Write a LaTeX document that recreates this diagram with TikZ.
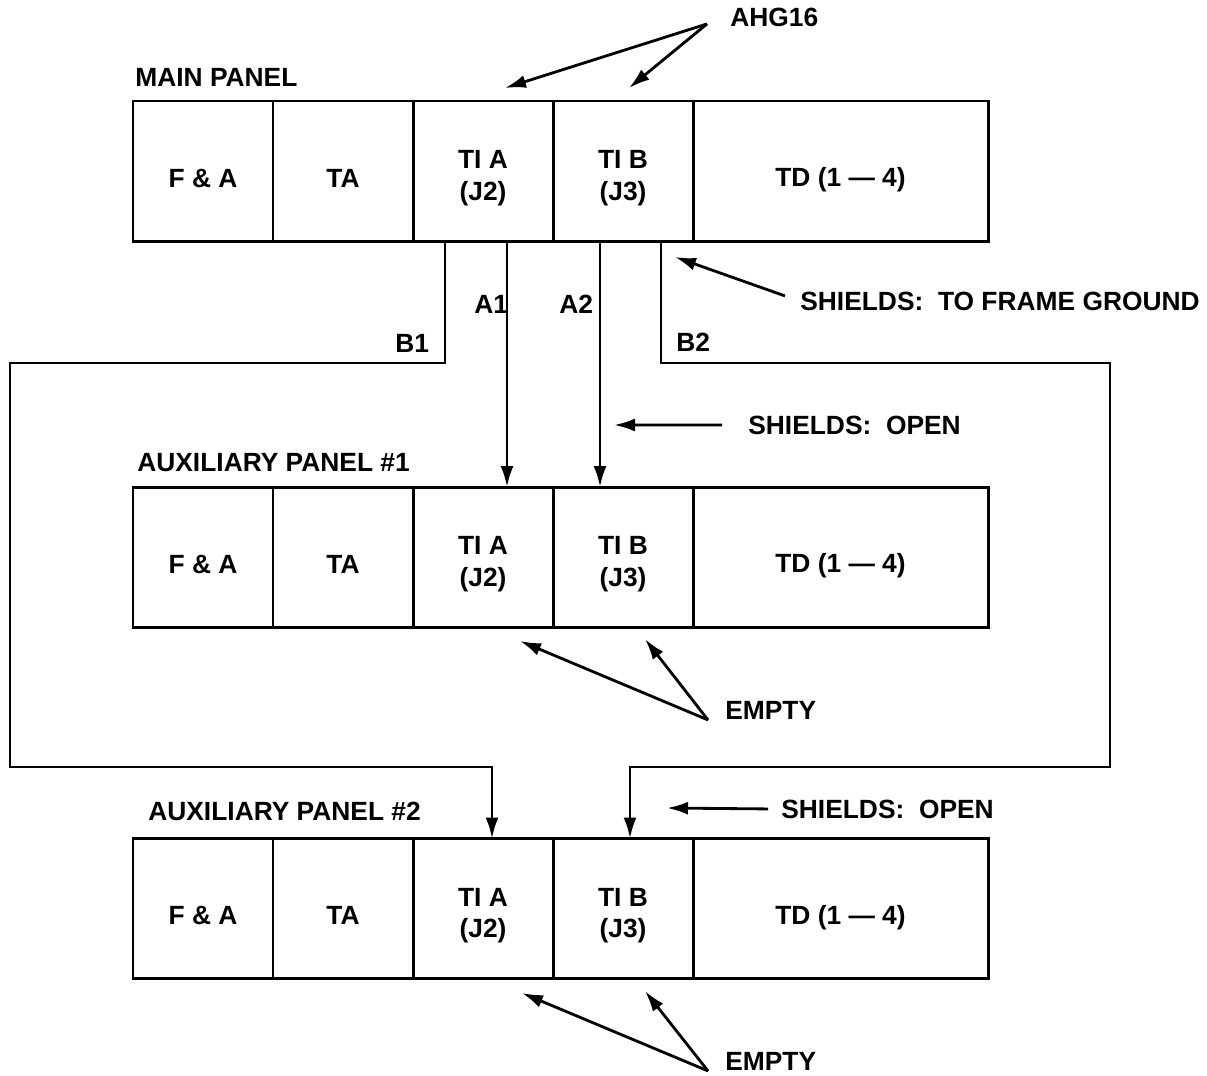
\documentclass[tikz,border=0pt]{standalone}
\usepackage{fontspec}
\setmainfont{Liberation Sans}
\usetikzlibrary{arrows.meta,positioning}
\newcommand\cellstrut{\rule[-1mm]{0pt}{8.4mm}}
\newcommand\pairstrut{\rule[-1mm]{0pt}{13.8mm}}

\begin{document}
\begin{tikzpicture}[
 x=0.2mm,y=-0.2mm,
 node distance=0mm,
 every node/.style={font=\fontsize{15}{18}\selectfont\bfseries},
 cell/.style={draw,line width=1.7pt,outer sep=0pt,minimum width=28mm,
              minimum height=28mm,align=center,inner sep=0pt,
              execute at begin node=\cellstrut},
 pair/.style={cell,execute at begin node=\pairstrut},
 wide/.style={cell,minimum width=59mm},
 lbl/.style={anchor=base west,inner sep=0pt},
 ptr/.style={-{Latex[length=4.2mm,width=2.6mm]},line width=1.6pt}]
 \useasboundingbox (0,0) rectangle (1207,1075);
 % main panel
 \node[lbl] (mainlbl) at (135,86) {MAIN PANEL};
 \node[cell] (mFA) at (203,171) {F \& A};
 \node[cell] (mTA) [right=of mFA] {TA};
 \node[pair] (mTIA) [right=of mTA] {TI A\\(J2)};
 \node[pair] (mTIB) [right=of mTIA] {TI B\\(J3)};
 \node[wide] (mTD) [right=of mTIB] {TD (1 --- 4)};
 % auxiliary panel 1
 \node[lbl] (aux1lbl) at (137,471) {AUXILIARY PANEL \#1};
 \node[cell] (pFA) at (203,557) {F \& A};
 \node[cell] (pTA) [right=of pFA] {TA};
 \node[pair] (pTIA) [right=of pTA] {TI A\\(J2)};
 \node[pair] (pTIB) [right=of pTIA] {TI B\\(J3)};
 \node[wide] (pTD) [right=of pTIB] {TD (1 --- 4)};
 % auxiliary panel 2
 \node[lbl] (aux2lbl) at (148,820) {AUXILIARY PANEL \#2};
 \node[cell] (qFA) at (203,908.5) {F \& A};
 \node[cell] (qTA) [right=of qFA] {TA};
 \node[pair] (qTIA) [right=of qTA] {TI A\\(J2)};
 \node[pair] (qTIB) [right=of qTIA] {TI B\\(J3)};
 \node[wide] (qTD) [right=of qTIB] {TD (1 --- 4)};
 % cables
 \coordinate (b1w) at (10,363);
 \coordinate (b1s) at (10,767);
 \coordinate (b2e) at (1110,363);
 \coordinate (b2s) at (1110,767);
 \draw[ptr] ([xshift=6.4mm]mTIA.south west) |- (b1w) -- (b1s) -| ([xshift=1.8mm]qTIA.north);
 \draw[ptr] ([xshift=-6.4mm]mTIB.south east) |- (b2e) -- (b2s) -| ([xshift=1.4mm]qTIB.north);
 \draw[ptr] ([xshift=4.8mm]mTIA.south) -- ([xshift=4.8mm]pTIA.north);
 \draw[ptr] ([xshift=-4.6mm]mTIB.south) -- ([xshift=-4.6mm]pTIB.north);
 \node[lbl] (a1lbl) at (474,313) {A1};
 \node[lbl] (a2lbl) at (559,313) {A2};
 \node[lbl] (b1lbl) at (395,352) {B1};
 \node[lbl] (b2lbl) at (676,351) {B2};
 % callouts
 \node[lbl] (ahg) at (730,26) {AHG16};
 \coordinate (ahgL) at (505,88);
 \coordinate (ahgR) at (629,88);
 \draw[ptr] ([xshift=-4.6mm,yshift=-1.4mm]ahg.west) -- (ahgL);
 \draw[ptr] ([xshift=-4.6mm,yshift=-1.4mm]ahg.west) -- (ahgR);
 \node[lbl] (ground) at (800,310) {SHIELDS:~~TO FRAME GROUND};
 \coordinate (groundT) at (675,257);
 \draw[ptr] ([xshift=-3mm,yshift=1mm]ground.west) -- (groundT);
 \node[lbl] (open1) at (748,434) {SHIELDS:~~OPEN};
 \coordinate (open1T) at (614,425);
 \draw[ptr] ([xshift=-5.2mm]open1.west) -- (open1T);
 \node[lbl] (open2) at (781,818) {SHIELDS:~~OPEN};
 \coordinate (open2T) at (667,808);
 \draw[ptr] ([xshift=-2.6mm]open2.west) -- (open2T);
 \node[lbl] (empty1) at (725,719) {EMPTY};
 \coordinate (empty1L) at (520,641);
 \coordinate (empty1R) at (645,639);
 \draw[ptr] ([xshift=-3.4mm,yshift=-2mm]empty1.west) -- (empty1L);
 \draw[ptr] ([xshift=-3.4mm,yshift=-2mm]empty1.west) -- (empty1R);
 \node[lbl] (empty2) at (725,1070) {EMPTY};
 \coordinate (empty2L) at (522,993);
 \coordinate (empty2R) at (645,991);
 \draw[ptr] ([xshift=-3.4mm,yshift=-2mm]empty2.west) -- (empty2L);
 \draw[ptr] ([xshift=-3.4mm,yshift=-2mm]empty2.west) -- (empty2R);
\end{tikzpicture}
\end{document}
